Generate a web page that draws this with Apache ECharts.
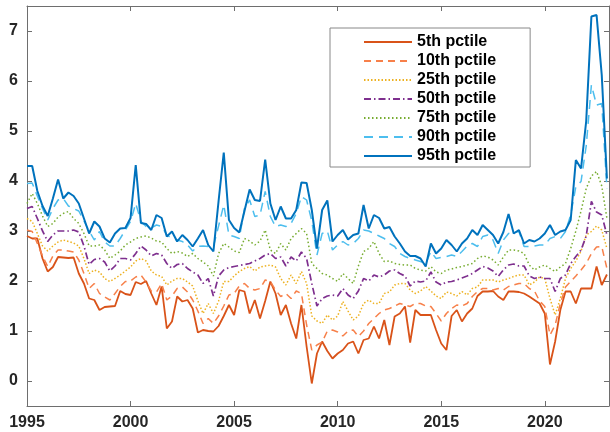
<!DOCTYPE html>
<html>
<head>
<meta charset="utf-8">
<script src="https://cdn.jsdelivr.net/npm/echarts@6/dist/echarts.min.js"></script>
<style>
  html, body { margin: 0; padding: 0; background: #fff; }
  #chart { width: 610px; height: 432px; }
</style>
</head>
<body>
<div id="chart"></div>
<script>
// quarterly values, 1995Q1 .. 2023Q1
const startYear = 1995;
const xTicks = [1995, 2000, 2005, 2010, 2015, 2020];
const yTicks = [0, 1, 2, 3, 4, 5, 6, 7];
const names = ['5th pctile', '10th pctile', '25th pctile', '50th pctile', '75th pctile', '90th pctile', '95th pctile'];

const p05 = [
  2.90, 2.85, 2.85, 2.45, 2.19, 2.28, 2.48, 2.47, 2.46, 2.47, 2.15, 1.95,
  1.65, 1.62, 1.42, 1.48, 1.49, 1.50, 1.80, 1.74, 1.72, 1.98, 1.94, 2.00,
  1.75, 1.52, 1.89, 1.05, 1.19, 1.69, 1.59, 1.62, 1.45, 0.97, 1.02, 1.00,
  0.99, 1.10, 1.30, 1.52, 1.32, 1.82, 1.79, 1.35, 1.62, 1.25, 1.60, 1.99,
  1.75, 1.32, 1.52, 1.15, 0.85, 1.52, 0.69, -0.05, 0.55, 0.79, 0.60, 0.45,
  0.55, 0.62, 0.75, 0.79, 0.55, 0.82, 0.85, 1.09, 0.85, 1.22, 0.72, 1.29,
  1.35, 1.49, 0.77, 1.42, 1.32, 1.32, 1.32, 1.02, 0.75, 0.62, 1.30, 1.42,
  1.19, 1.35, 1.45, 1.70, 1.79, 1.79, 1.80, 1.69, 1.62, 1.79, 1.79, 1.78,
  1.75, 1.69, 1.62, 1.55, 1.35, 0.33, 0.79, 1.42, 1.79, 1.79, 1.55, 1.85,
  1.85, 1.85, 2.29, 1.92, 2.13
];
const p10 = [
  3.02, 2.99, 2.75, 2.50, 2.29, 2.50, 2.62, 2.62, 2.60, 2.58, 2.42, 2.15,
  1.85, 1.95, 1.75, 1.68, 1.62, 1.75, 1.89, 1.99, 2.00, 2.08, 2.12, 1.98,
  1.80, 1.78, 1.95, 1.62, 1.70, 1.85, 1.88, 1.78, 1.62, 1.40, 1.15, 1.25,
  1.15, 1.30, 1.50, 1.72, 1.75, 1.90, 1.95, 1.85, 1.82, 1.85, 2.02, 1.99,
  1.82, 1.69, 1.75, 1.65, 1.80, 1.75, 1.12, 0.62, 0.72, 0.78, 1.00, 1.02,
  0.98, 0.90, 1.00, 1.02, 0.89, 1.00, 1.15, 1.25, 1.35, 1.42, 1.45, 1.50,
  1.55, 1.52, 1.49, 1.55, 1.55, 1.50, 1.49, 1.35, 1.20, 1.35, 1.45, 1.52,
  1.50, 1.55, 1.69, 1.79, 1.85, 1.85, 1.82, 1.85, 1.82, 1.89, 1.92, 1.95,
  1.95, 1.85, 1.80, 1.60, 1.49, 0.92, 1.12, 1.55, 1.88, 1.99, 2.10, 2.22,
  2.35, 2.55, 2.68, 2.69, 2.25
];
const p25 = [
  3.25, 3.19, 2.95, 2.70, 2.60, 2.70, 2.78, 2.82, 2.79, 2.76, 2.70, 2.45,
  2.15, 2.22, 2.18, 2.05, 1.99, 2.05, 2.12, 2.20, 2.28, 2.40, 2.45, 2.40,
  2.20, 2.12, 2.09, 1.92, 2.00, 2.05, 2.05, 1.98, 1.90, 1.60, 1.35, 1.55,
  1.35, 1.60, 1.99, 1.99, 2.10, 2.19, 2.25, 2.29, 2.20, 2.28, 2.30, 2.32,
  2.28, 2.05, 1.92, 2.12, 1.95, 2.19, 1.95, 1.30, 1.20, 1.15, 1.32, 1.22,
  1.30, 1.59, 1.40, 1.22, 1.30, 1.55, 1.62, 1.55, 1.55, 1.75, 1.78, 1.92,
  1.95, 1.95, 1.82, 1.75, 1.80, 1.89, 1.80, 1.70, 1.65, 1.78, 1.75, 1.70,
  1.79, 1.72, 1.85, 1.88, 2.02, 2.02, 2.02, 1.98, 2.02, 2.05, 2.09, 2.12,
  2.12, 1.92, 1.98, 2.08, 2.05, 1.65, 1.32, 1.65, 2.05, 2.25, 2.40, 2.60,
  2.92, 2.99, 3.10, 3.02, 2.65
];
const p50 = [
  3.45, 3.49, 3.25, 3.00, 2.79, 2.92, 3.00, 3.00, 3.00, 3.02, 2.98, 2.70,
  2.33, 2.43, 2.45, 2.38, 2.20, 2.30, 2.45, 2.45, 2.42, 2.55, 2.70, 2.62,
  2.50, 2.55, 2.52, 2.35, 2.25, 2.33, 2.35, 2.25, 2.18, 2.12, 1.95, 2.05,
  1.70, 2.10, 2.22, 2.27, 2.29, 2.31, 2.33, 2.35, 2.40, 2.45, 2.52, 2.55,
  2.45, 2.48, 2.30, 2.48, 2.40, 2.58, 2.45, 1.95, 1.50, 1.65, 1.70, 1.72,
  1.70, 1.85, 1.72, 1.65, 1.80, 2.05, 2.00, 2.12, 2.08, 2.12, 2.20, 2.22,
  2.15, 2.10, 1.90, 2.00, 1.98, 2.00, 2.18, 1.98, 1.92, 1.98, 1.99, 2.02,
  2.06, 2.10, 2.15, 2.22, 2.29, 2.26, 2.20, 2.09, 2.22, 2.32, 2.34, 2.30,
  2.30, 2.10, 2.05, 2.08, 2.05, 2.05, 1.79, 2.05, 2.12, 2.35, 2.49, 2.62,
  2.90, 3.59, 3.38, 3.32, 2.92
];
const p75 = [
  3.55, 3.75, 3.55, 3.30, 3.09, 3.15, 3.28, 3.35, 3.39, 3.25, 3.15, 2.95,
  2.70, 2.70, 2.72, 2.62, 2.45, 2.52, 2.60, 2.72, 2.78, 2.85, 2.88, 2.90,
  2.86, 2.80, 2.78, 2.65, 2.55, 2.59, 2.56, 2.49, 2.55, 2.45, 2.38, 2.30,
  2.10, 2.55, 2.75, 2.68, 2.60, 2.57, 2.85, 2.80, 2.72, 2.80, 3.02, 2.62,
  2.55, 2.75, 2.62, 2.85, 2.95, 3.05, 2.95, 2.35, 2.25, 2.15, 2.12, 2.05,
  1.99, 2.15, 2.05, 1.95, 2.30, 2.59, 2.65, 2.79, 2.55, 2.39, 2.40, 2.35,
  2.33, 2.32, 2.32, 2.25, 2.22, 2.20, 2.29, 2.18, 2.15, 2.22, 2.24, 2.27,
  2.29, 2.32, 2.35, 2.45, 2.50, 2.48, 2.42, 2.32, 2.48, 2.62, 2.62, 2.60,
  2.55, 2.32, 2.22, 2.28, 2.32, 2.25, 2.19, 2.28, 2.35, 2.65, 3.00, 3.40,
  3.85, 4.10, 4.19, 3.90, 3.25
];
const p90 = [
  3.95, 3.96, 3.70, 3.45, 3.22, 3.45, 3.62, 3.65, 3.50, 3.45, 3.40, 3.20,
  3.00, 2.82, 2.99, 2.78, 2.70, 2.70, 2.85, 3.02, 3.19, 3.55, 3.19, 3.09,
  3.06, 3.12, 3.09, 2.92, 2.85, 2.82, 2.79, 2.72, 2.60, 2.69, 2.70, 2.69,
  2.69, 3.10, 3.52, 2.92, 2.89, 2.85, 3.45, 3.62, 3.29, 3.32, 3.79, 3.29,
  3.09, 3.12, 3.09, 3.15, 3.35, 3.69, 3.62, 3.20, 2.52, 2.95, 3.00, 2.62,
  2.72, 2.79, 2.72, 2.75, 2.85, 3.02, 3.00, 2.95, 2.90, 2.85, 2.75, 2.69,
  2.55, 2.49, 2.45, 2.42, 2.39, 2.35, 2.59, 2.45, 2.47, 2.49, 2.52, 2.49,
  2.59, 2.70, 2.75, 2.69, 2.89, 2.92, 2.82, 2.55, 2.82, 2.95, 2.97, 2.99,
  2.69, 2.69, 2.70, 2.72, 2.72, 2.85, 2.89, 2.85, 2.99, 3.32, 3.89, 3.99,
  4.70, 5.92, 5.52, 5.55, 3.85
];
const p95 = [
  4.30, 4.30, 3.80, 3.50, 3.30, 3.65, 4.03, 3.65, 3.77, 3.70, 3.55, 3.25,
  2.95, 3.19, 3.09, 2.85, 2.77, 2.95, 3.05, 3.06, 3.26, 4.32, 3.16, 3.14,
  3.02, 3.32, 3.26, 2.89, 2.99, 2.79, 2.92, 2.82, 2.69, 2.85, 3.02, 2.72,
  2.59, 3.60, 4.57, 3.22, 3.06, 2.97, 3.40, 3.83, 3.62, 3.60, 4.43, 3.55,
  3.22, 3.49, 3.25, 3.25, 3.42, 3.97, 3.96, 3.42, 2.65, 3.42, 3.61, 2.79,
  2.92, 3.02, 2.83, 2.92, 2.95, 3.52, 3.05, 3.32, 3.26, 3.05, 3.08, 2.89,
  2.75, 2.59, 2.50, 2.50, 2.45, 2.29, 2.75, 2.55, 2.65, 2.82, 2.72, 2.59,
  2.75, 2.85, 3.02, 2.92, 3.12, 3.02, 2.92, 2.75, 2.98, 3.34, 2.95, 3.02,
  2.75, 2.82, 2.79, 2.85, 2.95, 3.12, 2.92, 2.99, 3.02, 3.22, 4.42, 4.25,
  5.20, 7.29, 7.32, 6.12, 4.05
];

const colors = ['#D95319', '#F7804A', '#EDB120', '#7E2F8E', '#77AC30', '#4DBEEE', '#0072BD'];
const dashes = ['solid', [7, 5], [1.5, 2], [7, 3, 1.5, 3], [1.5, 2.5], [9, 6], 'solid'];
const widths = [1.8, 1.5, 1.5, 1.7, 1.5, 1.5, 2];

const dates = p05.map((_, i) => startYear + i / 4);
const allSeries = [p05, p10, p25, p50, p75, p90, p95];

const chart = echarts.init(document.getElementById('chart'), null, { renderer: 'canvas' });

const axisLineStyle = { color: '#6e6e6e', width: 1 };
const labelStyle = { color: '#262626', fontSize: 16, fontWeight: 'bold', fontFamily: 'Liberation Sans, Arial, sans-serif' };

function xAx(pos, showLabel) {
  return {
    type: 'value', position: pos, min: 1995, max: 2023.1,
    axisLine: { show: true, onZero: false, lineStyle: axisLineStyle },
    axisTick: { show: true, inside: true, length: 5, customValues: xTicks, lineStyle: axisLineStyle },
    axisLabel: Object.assign({ show: showLabel, margin: 9, customValues: xTicks, formatter: v => String(v) }, labelStyle),
    splitLine: { show: false }
  };
}
function yAx(pos, showLabel) {
  return {
    type: 'value', position: pos, min: -0.5, max: 7.5,
    axisLine: { show: true, onZero: false, lineStyle: axisLineStyle },
    axisTick: { show: true, inside: true, length: 5, customValues: yTicks, lineStyle: axisLineStyle },
    axisLabel: Object.assign({ show: showLabel, margin: 9, customValues: yTicks }, labelStyle),
    splitLine: { show: false }
  };
}

const option = {
  animation: false,
  backgroundColor: '#fff',
  grid: { left: 27, right: 1, top: 6, bottom: 26, containLabel: false, outerBoundsMode: 'none' },
  xAxis: [xAx('bottom', true), xAx('top', false)],
  yAxis: [yAx('left', true), yAx('right', false)],
  legend: {
    orient: 'vertical',
    left: 330,
    top: 28,
    padding: [6, 34, 3, 33],
    itemGap: 3,
    itemWidth: 48,
    itemHeight: 16,
    itemStyle: { opacity: 0 },
    backgroundColor: '#fff',
    borderColor: '#888',
    borderWidth: 1,
    textStyle: { color: '#000', fontSize: 16, fontWeight: 'bold', fontFamily: 'Liberation Sans, Arial, sans-serif' },
    data: names
  },
  series: allSeries.map((vals, k) => ({
    name: names[k],
    type: 'line',
    symbol: 'none',
    color: colors[k],
    lineStyle: { color: colors[k], width: widths[k], type: dashes[k] },
    data: vals.map((v, i) => [dates[i], v])
  }))
};

chart.setOption(option);
</script>
</body>
</html>
